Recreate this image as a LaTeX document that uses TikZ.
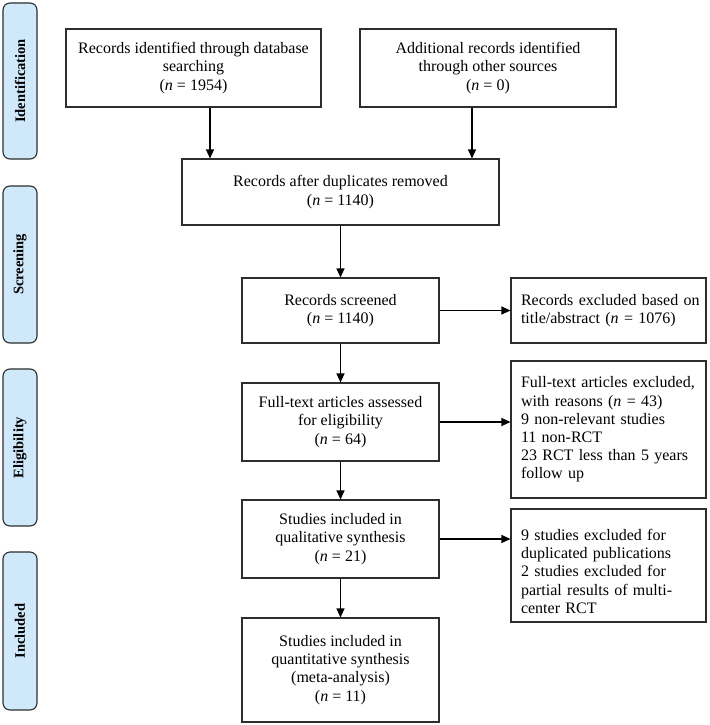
\documentclass[tikz,border=0pt]{standalone}
\usepackage{fontspec}
\setmainfont{Liberation Serif}
\usetikzlibrary{arrows.meta}
\definecolor{sidefill}{RGB}{207,232,250}
\definecolor{edge}{RGB}{45,45,45}
\newcommand\spreadln[1]{\makebox[175pt][s]{#1}}
\begin{document}
\begin{tikzpicture}[x=1pt,y=-1pt,
 box/.style={draw=edge,line width=1.1pt,align=center,inner sep=0pt,font=\fontsize{16}{18.2}\selectfont},
 lbox/.style={box,align=left,text width=175pt},
 side/.style={draw=edge,line width=1.1pt,fill=sidefill,rounded corners=7pt,rotate=90,minimum height=34pt,inner sep=0pt,font=\bfseries\fontsize{14.5}{18}\selectfont},
 arr/.style={draw=black,line width=1.1pt,-{Triangle[length=9pt,width=8pt]}}]
\useasboundingbox (0,0) rectangle (709,725);

% side bars
\node[side,minimum width=156pt] (s1) at (20,81) {Identification};
\node[side,minimum width=157pt] (s2) at (20,264.5) {Screening};
\node[side,minimum width=157pt] (s3) at (20,447.5) {Eligibility};
\node[side,minimum width=158pt] (s4) at (20,631) {Included};

% boxes
\node[box,minimum width=255pt,minimum height=78pt] (b1) at (193.5,68) {Records identified through database\\searching\\(\textit{n} = 1954)};
\node[box,minimum width=256pt,minimum height=78pt] (b2) at (488,68) {Additional records identified\\through other sources\\(\textit{n} = 0)};
\node[box,minimum width=317pt,minimum height=66pt] (b3) at (340.5,192) {Records after duplicates removed\\(\textit{n} = 1140)};
\node[box,minimum width=197pt,minimum height=65pt] (b4) at (340.5,310.5) {Records screened\\(\textit{n} = 1140)};
\node[lbox,minimum width=195pt,minimum height=65pt] (b5) at (608.5,310.5) {\mbox{Records excluded based on}\\\mbox{title/abstract (\textit{n} = 1076)}};
\node[box,minimum width=197pt,minimum height=78pt] (b6) at (340.5,422) {Full-text articles assessed\\for eligibility\\(\textit{n} = 64)};
\node[lbox,minimum width=195pt,minimum height=137pt] (b7) at (608.5,429.5) {\spreadln{Full-text articles excluded,}\\with reasons (\textit{n} = 43)\\9 non-relevant studies\\11 non-RCT\\\spreadln{23 RCT less than 5 years}\\follow up};
\node[box,minimum width=197pt,minimum height=78pt] (b8) at (340.5,539) {Studies included in\\qualitative synthesis\\(\textit{n} = 21)};
\node[lbox,minimum width=195pt,minimum height=113pt] (b9) at (608.5,565.5) {\rule{0pt}{23pt}9 studies excluded for\\duplicated publications\\2 studies excluded for\\partial results of multi-\\center RCT};
\node[box,minimum width=197pt,minimum height=104pt] (b10) at (340.5,670) {Studies included in\\quantitative synthesis\\(meta-analysis)\\(\textit{n} = 11)};

% connectors
\draw[arr] ([xshift=16.5pt]b1.south) -- ([xshift=16.5pt]b1.south |- b3.north);
\draw[arr] ([xshift=-16pt]b2.south) -- ([xshift=-16pt]b2.south |- b3.north);
\draw[arr] (b3.south) -- (b4.north);
\draw[arr] (b4.east) -- (b5.west);
\draw[arr] (b4.south) -- (b6.north);
\draw[arr] (b6.east) -- (b6.east -| b7.west);
\draw[arr] (b6.south) -- (b8.north);
\draw[arr] (b8.east) -- (b8.east -| b9.west);
\draw[arr] (b8.south) -- (b10.north);
\end{tikzpicture}
\end{document}
